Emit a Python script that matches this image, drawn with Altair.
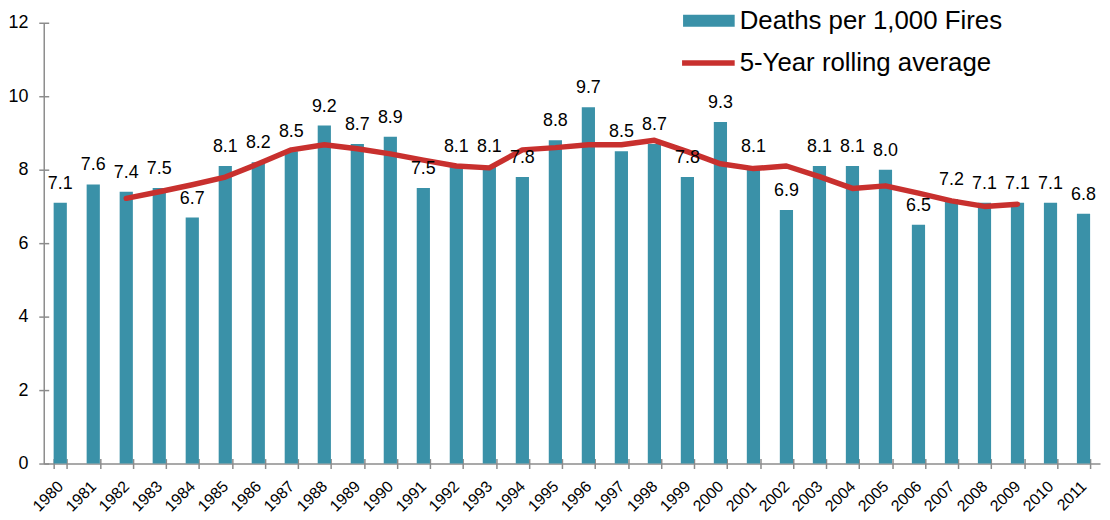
import altair as alt
import pandas as pd

years = list(range(1980, 2012))
deaths = [7.1, 7.6, 7.4, 7.5, 6.7, 8.1, 8.2, 8.5, 9.2, 8.7, 8.9, 7.5, 8.1, 8.1, 7.8, 8.8,
          9.7, 8.5, 8.7, 7.8, 9.3, 8.1, 6.9, 8.1, 8.1, 8.0, 6.5, 7.2, 7.1, 7.1, 7.1, 6.8]
rolling_avg = [None, None, 7.22, 7.40, 7.59, 7.80, 8.16, 8.54, 8.68, 8.57, 8.43, 8.26,
               8.10, 8.05, 8.54, 8.60, 8.68, 8.68, 8.80, 8.49, 8.16, 8.03, 8.10, 7.81,
               7.49, 7.56, 7.36, 7.15, 7.00, 7.06, None, None]
year_labels = [str(y) for y in years]
bar_name = "Deaths per 1,000 Fires"
line_name = "5-Year rolling average"

BAR_COLOR = "#3A91A8"
LINE_COLOR = "#C8302E"
AXIS_COLOR = "#8C8C8C"
FONT = "Liberation Sans"

df = pd.DataFrame({
    "year": year_labels,
    "deaths": deaths,
    "avg": rolling_avg,
    "bar_series": [bar_name] * len(years),
    "line_series": [line_name] * len(years),
})

W, H = 1064, 444

xscale = alt.Scale(domain=year_labels, paddingInner=0.6, paddingOuter=0.3)
yscale = alt.Scale(domain=[0, 12])

# axes carrying ticks (crossing the axis line) and labels
x_axis_ticks = alt.Axis(orient="bottom", domain=False, ticks=True, tickBand="extent",
                        tickSize=10, offset=-5, tickColor=AXIS_COLOR, tickWidth=1.5,
                        labelAngle=-45, labelAlign="right", labelBaseline="middle",
                        labelFontSize=16, labelFont=FONT, labelColor="#000",
                        labelPadding=15, labelLimit=0, labelOverlap=False,
                        title=None, grid=False)
y_axis_ticks = alt.Axis(orient="left", domain=False, ticks=True, tickSize=10, offset=-5,
                        tickColor=AXIS_COLOR, tickWidth=1.5, values=[0, 2, 4, 6, 8, 10, 12],
                        labelFontSize=18, labelFont=FONT, labelColor="#000",
                        labelPadding=11, title=None, grid=False)
# axes drawing only the axis lines
x_axis_line = alt.Axis(orient="bottom", domain=True, domainColor=AXIS_COLOR, domainWidth=1.5,
                       ticks=False, labels=False, title=None, grid=False)
y_axis_line = alt.Axis(orient="left", domain=True, domainColor=AXIS_COLOR, domainWidth=1.5,
                       ticks=False, labels=False, title=None, grid=False)

base = alt.Chart(df)

bars = base.mark_bar().encode(
    x=alt.X("year:N", scale=xscale, axis=x_axis_ticks),
    y=alt.Y("deaths:Q", scale=yscale, axis=y_axis_ticks),
    fill=alt.Fill("bar_series:N",
                  scale=alt.Scale(domain=[bar_name], range=[BAR_COLOR]),
                  legend=alt.Legend(orient="none", legendX=644, legendY=-28, title=None,
                                    symbolType="M-1,-0.23H1V0.23H-1Z", symbolSize=2704,
                                    symbolStrokeWidth=0, labelFontSize=26, labelFont=FONT,
                                    labelColor="#000", labelOffset=5, labelLimit=0,
                                    padding=0)),
)

line = base.mark_line(strokeWidth=5.5, strokeCap="round", strokeJoin="round").encode(
    x=alt.X("year:N", scale=xscale, axis=x_axis_line),
    y=alt.Y("avg:Q", scale=yscale, axis=y_axis_line),
    stroke=alt.Stroke("line_series:N",
                      scale=alt.Scale(domain=[line_name], range=[LINE_COLOR]),
                      legend=alt.Legend(orient="none", legendX=640, legendY=11, title=None,
                                        symbolType="stroke", symbolSize=2809,
                                        symbolStrokeWidth=5.5, labelFontSize=26,
                                        labelFont=FONT, labelColor="#000", labelOffset=2,
                                        labelLimit=0, padding=0)),
)

labels = base.mark_text(baseline="bottom", dy=-10, fontSize=18, font=FONT, color="#000").encode(
    x=alt.X("year:N", scale=xscale, axis=None),
    y=alt.Y("deaths:Q", scale=yscale, axis=None),
    text=alt.Text("deaths:Q", format=".1f"),
)

chart = alt.layer(bars, line, labels).resolve_axis(
    x="independent", y="independent"
).properties(
    width=W, height=H,
    autosize=alt.AutoSizeParams(type="none"),
    padding={"left": 36, "top": 13, "right": 2, "bottom": 55},
).configure_view(stroke=None)

chart.save("out.html", embed_options={"renderer": "svg", "actions": False})
